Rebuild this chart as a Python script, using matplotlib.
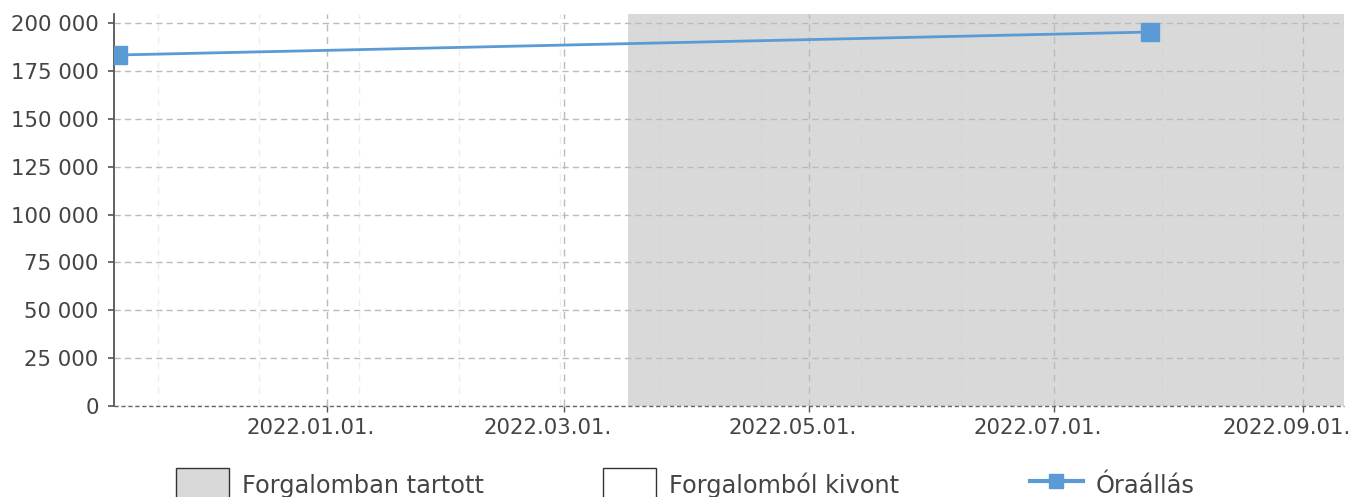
import matplotlib
matplotlib.use("Agg")
import matplotlib.pyplot as plt
import matplotlib.dates as mdates
import matplotlib.ticker as mticker
import matplotlib.transforms as mtransforms
from matplotlib.patches import Patch
from matplotlib.lines import Line2D
import pandas as pd

plt.rcParams["font.family"] = ["DejaVu Sans"]

# Data
dates = pd.to_datetime(["2021-11-10", "2022-07-25"])
meter = [183300, 195300]
in_service_start = pd.Timestamp("2022-03-17")

x_start = pd.Timestamp("2021-11-09")
x_end = pd.Timestamp("2022-09-11 06:00")
y_max = 204700

legend_labels = ["Forgalomban tartott", "Forgalomból kivont", "Óraállás"]

text_color = "#444444"
line_color = "#5b9bd5"
shade_color = "#d9d9d9"

fig = plt.figure(figsize=(13.51, 4.97), dpi=100)
ax = fig.add_axes([0.0844, 0.1831, 0.9104, 0.7887])

# shaded period (in service)
ax.axvspan(in_service_start, x_end, color=shade_color, lw=0, zorder=1)

ax.plot(dates, meter, color=line_color, lw=2.0, marker="s", markersize=12.5,
        zorder=3)

ax.set_xlim(x_start, x_end)
ax.set_ylim(0, y_max)

# axes ticks and formats
ax.xaxis.set_major_locator(mdates.MonthLocator(bymonth=[1, 3, 5, 7, 9]))
ax.xaxis.set_major_formatter(mdates.DateFormatter("%Y.%m.%d."))
minor = pd.date_range("2021-11-20", x_end, freq="25D")
ax.xaxis.set_minor_locator(mticker.FixedLocator(mdates.date2num(minor)))
ax.yaxis.set_major_locator(mticker.MultipleLocator(25000))
ax.yaxis.set_major_formatter(
    mticker.FuncFormatter(lambda v, p: f"{int(v):,}".replace(",", " ")))

ax.tick_params(axis="both", which="major", labelsize=15.3, colors=text_color)
ax.tick_params(axis="y", length=4.5, width=1.2, pad=6.5, color="#555555")
ax.tick_params(axis="x", length=4.5, width=1, pad=4.5, color="#555555")
ax.tick_params(axis="x", which="minor", length=0)

# x labels sit a little left of their ticks in the reference
shift = mtransforms.ScaledTranslation(-16 / 100, 0, fig.dpi_scale_trans)
for lbl in ax.get_xticklabels():
    lbl.set_transform(lbl.get_transform() + shift)

# grid
ax.grid(True, which="major", axis="y", color="#bbbbbb", lw=1,
        linestyle=(0, (4.5, 3)))
ax.grid(True, which="major", axis="x", color="#bbbbbb", lw=1,
        linestyle=(0, (5, 4)))
ax.grid(True, which="minor", axis="x", color="#cccccc", lw=1, alpha=0.35,
        linestyle=(0, (5, 4)))

for side in ["top", "right", "bottom"]:
    ax.spines[side].set_visible(False)
ax.spines["left"].set_color("#555555")
ax.spines["left"].set_linewidth(1.3)
# dashed zero line in place of bottom spine
ax.axhline(0, color="#666666", lw=1, linestyle=(0, (3, 2)), zorder=2,
           clip_on=False)

# legend, three separately placed entries along the bottom
handles = [
    Patch(facecolor=shade_color, edgecolor="#333333", lw=1),
    Patch(facecolor="white", edgecolor="#333333", lw=1),
    Line2D([], [], color=line_color, lw=3, marker="s", markersize=10),
]
anchors = [0.1303, 0.4463, 0.7624]
for h, lab, xa in zip(handles, legend_labels, anchors):
    fig.legend([h], [lab], loc="center left", bbox_to_anchor=(xa, 0.024),
               frameon=False, fontsize=17.3, handlelength=2.2,
               handleheight=1.75, handletextpad=0.55, borderpad=0,
               borderaxespad=0, labelcolor=text_color)

fig.savefig("out.png", dpi=100)
